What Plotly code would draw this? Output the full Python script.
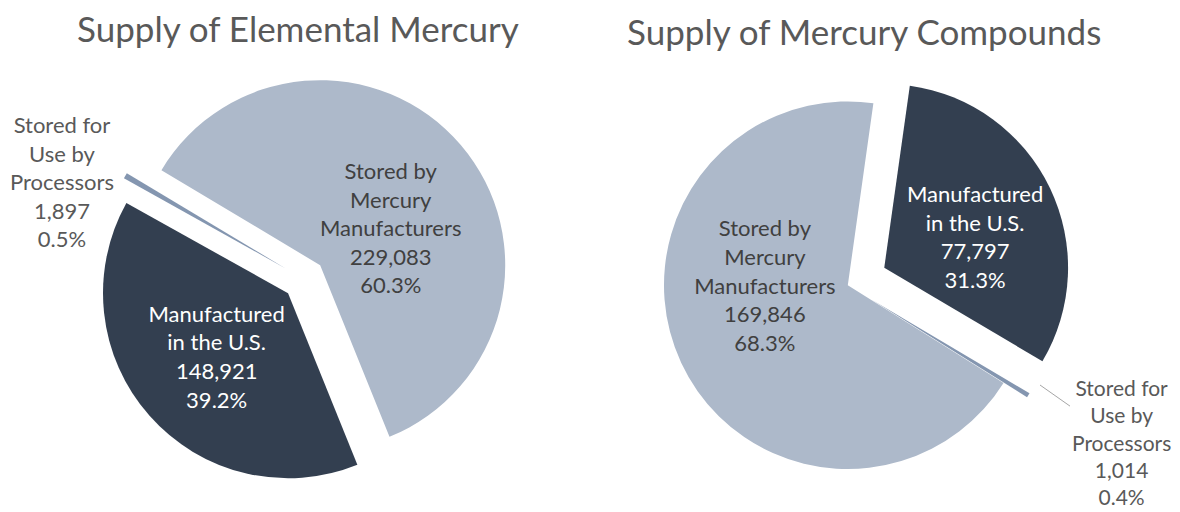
import plotly.graph_objects as go

categories = ["Manufactured<br>in the U.S.", "Stored for<br>Use by<br>Processors", "Stored by<br>Mercury<br>Manufacturers"]
elemental_values = [148921, 1897, 229083]
compound_values = [77797, 1014, 169846]
titles = ["Supply of Elemental Mercury", "Supply of Mercury Compounds"]

colors = ["#333f50", "#8496b0", "#adb9ca"]
font_family = "Lato, 'Open Sans', sans-serif"
grey = "#595959"
W, H = 1180, 512
OFF = 8  # page offset of the plot in the screenshot


def label_text(values, i):
    return f"{categories[i]}<br>{values[i]:,}<br>{values[i] / sum(values):.1%}"


fig = go.Figure()

fig.add_trace(go.Pie(
    labels=categories, values=elemental_values, sort=False, direction="clockwise",
    rotation=158, pull=[0.115, 0.115, 0.115],
    marker=dict(colors=colors, line=dict(width=0)),
    texttemplate="%{label}<br>%{value:,}<br>%{percent:.1%}",
    textposition=["inside", "none", "none"],
    insidetextorientation="horizontal",
    textfont=dict(family=font_family, size=22, color=["#ffffff", grey, "#404040"]),
    domain=dict(x=[0.076, 0.4257], y=[0.0676, 0.8736]),
    showlegend=False, hoverinfo="label+value+percent",
))

fig.add_trace(go.Pie(
    labels=categories, values=compound_values, sort=False, direction="clockwise",
    rotation=8, pull=[0.22, 0.15, 0.0],
    marker=dict(colors=colors, line=dict(width=0)),
    texttemplate="%{label}<br>%{value:,}<br>%{percent:.1%}",
    textposition=["none", "none", "inside"],
    insidetextorientation="horizontal",
    textfont=dict(family=font_family, size=22, color=["#ffffff", grey, "#404040"]),
    domain=dict(x=[0.5212, 0.9022], y=[0.0206, 0.8966]),
    showlegend=False, hoverinfo="label+value+percent",
))


def px_annot(text, cx, cy, color, size=22, **kw):
    fig.add_annotation(text=text, x=(cx - OFF) / W, y=1 - (cy - OFF) / H,
                       xref="paper", yref="paper", xanchor="center", yanchor="middle",
                       font=dict(family=font_family, size=size, color=color), **kw)


# titles
px_annot(titles[0], 298, 28, grey, size=35, showarrow=False)
px_annot(titles[1], 864, 31, grey, size=35, showarrow=False)

# slice labels placed like the reference
px_annot(label_text(elemental_values, 2), 390, 227, "#404040", showarrow=False)
px_annot(label_text(elemental_values, 1), 62, 181, grey, showarrow=False)
px_annot(label_text(compound_values, 0), 975, 236, "#ffffff", showarrow=False)

# right outside label with leader line
fig.add_annotation(text=label_text(compound_values, 1),
                   x=(1040 - OFF) / W, y=1 - (385 - OFF) / H, xref="paper", yref="paper",
                   ax=81, ay=57, showarrow=True, arrowhead=0, arrowwidth=1,
                   arrowcolor="#a6a6a6", standoff=0,
                   font=dict(family=font_family, size=21, color=grey))

fig.update_layout(
    width=W, height=H,
    margin=dict(l=0, r=0, t=0, b=0, autoexpand=False),
    paper_bgcolor="white", plot_bgcolor="white",
)

fig.write_html("out.html")
